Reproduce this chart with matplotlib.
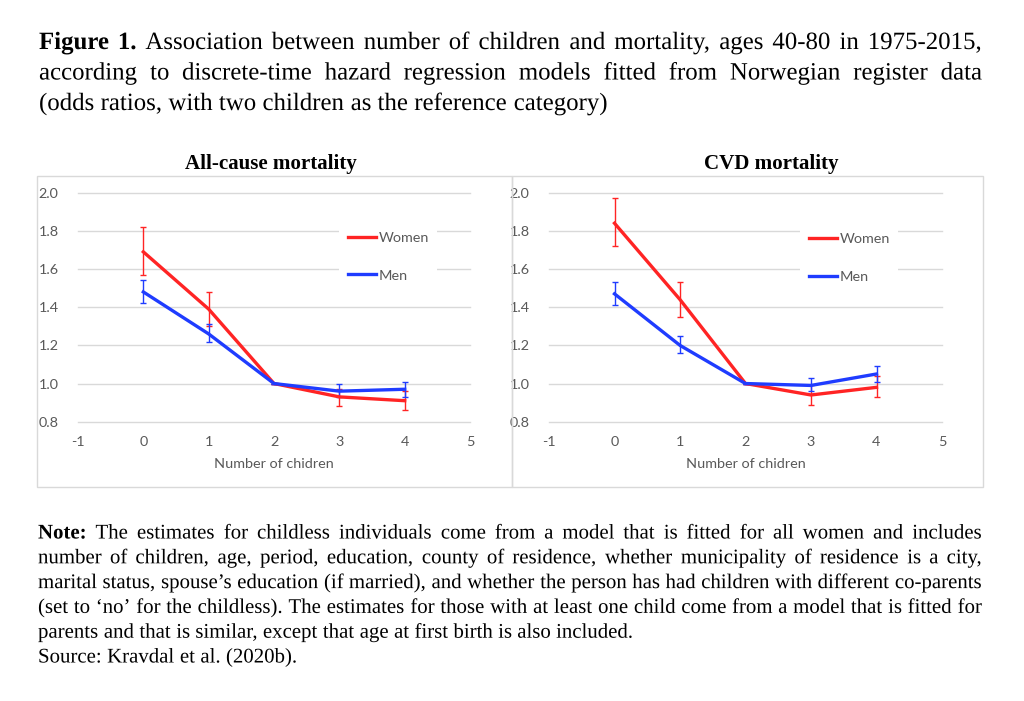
import matplotlib
matplotlib.use("Agg")
import matplotlib.pyplot as plt
import matplotlib.patheffects as pe
from matplotlib.patches import Rectangle
from matplotlib.lines import Line2D

W, H = 1024, 701

# number of children on the x axis
children = [0, 1, 2, 3, 4]

# All-cause mortality (odds ratios, lower / upper bounds)
all_women = [1.69, 1.39, 1.00, 0.93, 0.91]
all_women_lo = [1.57, 1.30, 1.00, 0.88, 0.86]
all_women_hi = [1.82, 1.48, 1.00, 0.97, 0.96]
all_men = [1.48, 1.26, 1.00, 0.96, 0.97]
all_men_lo = [1.42, 1.22, 1.00, 0.93, 0.93]
all_men_hi = [1.54, 1.31, 1.00, 1.00, 1.01]

# CVD mortality
cvd_women = [1.84, 1.44, 1.00, 0.94, 0.98]
cvd_women_lo = [1.72, 1.35, 1.00, 0.89, 0.93]
cvd_women_hi = [1.97, 1.53, 1.00, 0.99, 1.04]
cvd_men = [1.47, 1.20, 1.00, 0.99, 1.05]
cvd_men_lo = [1.41, 1.16, 1.00, 0.96, 1.01]
cvd_men_hi = [1.53, 1.25, 1.00, 1.03, 1.09]

y_ticks = [0.8, 1.0, 1.2, 1.4, 1.6, 1.8, 2.0]
x_ticks = [-1, 0, 1, 2, 3, 4, 5]

title_lines = [
    [("Figure", True), ("1.", True)] + [(w, False) for w in
        "Association between number of children and mortality, ages 40-80 in 1975-2015,".split()],
    [(w, False) for w in
        "according to discrete-time hazard regression models fitted from Norwegian register data".split()],
    [(w, False) for w in
        "(odds ratios, with two children as the reference category)".split()],
]
note_lines = [
    [("Note:", True)] + [(w, False) for w in
        "The estimates for childless individuals come from a model that is fitted for all women and includes".split()],
    [(w, False) for w in
        "number of children, age, period, education, county of residence, whether municipality of residence is a city,".split()],
    [(w, False) for w in
        "marital status, spouse\u2019s education (if married), and whether the person has had children with different co-parents".split()],
    [(w, False) for w in
        "(set to \u2018no\u2019 for the childless). The estimates for those with at least one child come from a model that is fitted for".split()],
    [(w, False) for w in
        "parents and that is similar, except that age at first birth is also included.".split()],
    [(w, False) for w in "Source: Kravdal et al. (2020b).".split()],
]

RED = "#ff2424"
BLUE = "#1f3cff"
GRAY = "#595959"
SANS = "Lato"
SERIF = "Liberation Serif"
FS = 10.4  # panel text size

plt.rcParams["axes.unicode_minus"] = False

fig = plt.figure(figsize=(W / 100, H / 100), dpi=100)
fig.patch.set_facecolor("white")
renderer = fig.canvas.get_renderer()


def justify(lines, x0, x1, y0, step, size, n_full):
    # word-by-word placement so the first n_full lines fill x0..x1
    for i, toks in enumerate(lines):
        y = y0 + i * step
        texts = []
        for word, bold in toks:
            t = fig.text(0, 1 - y / H, word, fontsize=size, family=SERIF,
                         weight="bold" if bold else "normal",
                         va="baseline", ha="left", color="black",
                         path_effects=[pe.Normal()])
            texts.append(t)
        widths = [t.get_window_extent(renderer).width for t in texts]
        if i < n_full and len(texts) > 1:
            gap = (x1 - x0 - sum(widths)) / (len(texts) - 1)
        else:
            gap = size / 0.72 * 0.25
        x = x0
        for t, w in zip(texts, widths):
            t.set_x(x / W)
            x += w + gap


justify(title_lines, 39, 982, 49, 30.5, 17.9, 2)
justify(note_lines, 38, 982, 538.5, 24.8, 15.0, 4)

# panel frames
for x0, x1 in [(37, 511.5), (511.5, 982.7)]:
    fig.patches.append(Rectangle((x0 / W, 1 - 487 / H), (x1 - x0) / W, (487 - 176) / H,
                                 transform=fig.transFigure, fill=False,
                                 edgecolor="#d9d9d9", lw=1.0))


def panel(x0, x1, women, w_lo, w_hi, men, m_lo, m_hi, title, title_x, leg_x, leg_y):
    ax = fig.add_axes([x0 / W, 1 - 421.7 / H, (x1 - x0) / W, (421.7 - 192.7) / H])
    ax.set_facecolor("none")
    ax.set_xlim(-1, 5)
    ax.set_ylim(0.8, 2.0)
    ax.set_xticks(x_ticks)
    ax.set_yticks(y_ticks)
    ax.set_yticklabels(["%.1f" % v for v in y_ticks])
    ax.tick_params(length=0, labelsize=FS, labelcolor=GRAY)
    ax.tick_params(axis="y", pad=14)
    ax.tick_params(axis="x", pad=10.5)
    for lab in ax.get_xticklabels() + ax.get_yticklabels():
        lab.set_family(SANS)
    for s in ax.spines.values():
        s.set_visible(False)
    ax.yaxis.grid(True, color="#d9d9d9", lw=1.0)
    for gl in ax.get_ygridlines():
        gl.set_clip_on(False)
    ax.set_axisbelow(True)

    for vals, lo, hi, c in [(women, w_lo, w_hi, RED), (men, m_lo, m_hi, BLUE)]:
        err = [[v - l for v, l in zip(vals, lo)], [h - v for v, h in zip(vals, hi)]]
        ax.errorbar(children, vals, yerr=err, color=c, lw=2.4, elinewidth=1.0,
                    capsize=2.0, capthick=1.0, clip_on=False)

    ax.set_xlabel("Number of chidren", family=SANS, fontsize=FS, color=GRAY, labelpad=6.8)

    handles = [Line2D([], [], color=RED, lw=2.4), Line2D([], [], color=BLUE, lw=2.4)]
    leg = ax.legend(handles, ["Women", "Men"], loc="upper left",
                    bbox_to_anchor=(leg_x / W, 1 - leg_y / H), bbox_transform=fig.transFigure,
                    frameon=True, facecolor="white", edgecolor="none", framealpha=1,
                    fancybox=False, handlelength=1.9, handletextpad=0.2,
                    labelspacing=1.79, borderpad=0.6, borderaxespad=0,
                    prop={"family": SANS, "size": FS})
    for t in leg.get_texts():
        t.set_color(GRAY)

    fig.text(title_x / W, 1 - 169 / H, title, family=SERIF, weight="bold",
             fontsize=15.1, ha="center", va="baseline")
    return ax


panel(78, 470, all_women, all_women_lo, all_women_hi, all_men, all_men_lo, all_men_hi,
      "All-cause mortality", 270.5, 339.4, 222.8)
panel(549, 942, cvd_women, cvd_women_lo, cvd_women_hi, cvd_men, cvd_men_lo, cvd_men_hi,
      "CVD mortality", 771, 800.4, 224.1)

fig.savefig("out.png", dpi=100)
